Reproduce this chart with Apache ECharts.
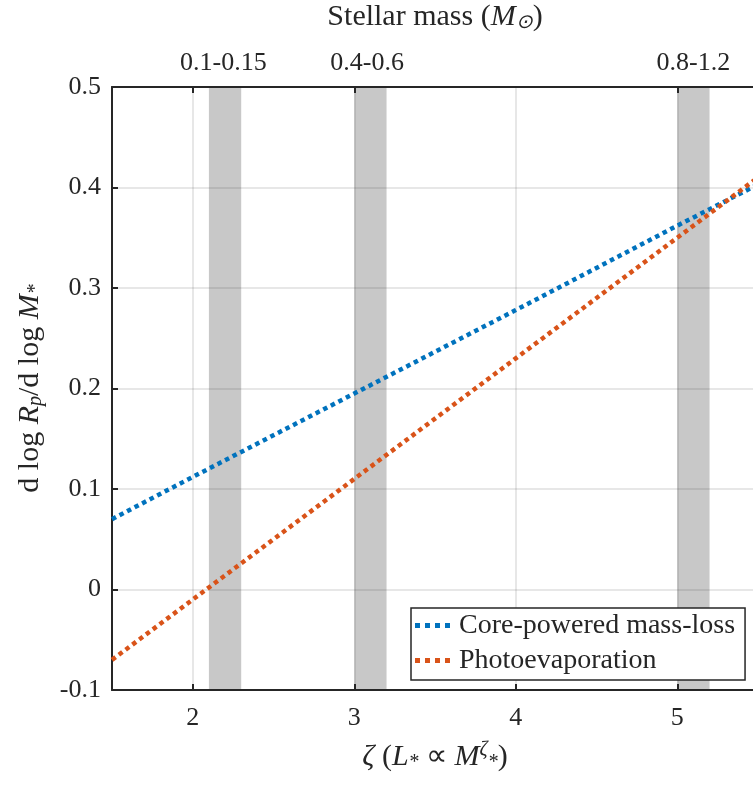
<!DOCTYPE html>
<html>
<head>
<meta charset="utf-8">
<script src="https://cdn.jsdelivr.net/npm/echarts@6/dist/echarts.min.js"></script>
<style>
  html, body { margin: 0; padding: 0; background: #fff; }
  #main { width: 753px; height: 785px; }
</style>
</head>
<body>
<div id="main"></div>
<script>
// values
var zeta = [1.5, 2, 3, 4, 5, 5.5];
var corePowered = [0.07, 0.112, 0.195, 0.278, 0.362, 0.403];
var photoevap = [-0.07, -0.01, 0.11, 0.23, 0.35, 0.41];
var bands = [[2.1, 2.3], [3.0, 3.2], [5.0, 5.2]];
var xTicks = [2, 3, 4, 5];
var massTickAt = [2, 3, 5];
var massLabelAt = [2.19, 3.08, 5.1];
var massLabels = ['0.1-0.15', '0.4-0.6', '0.8-1.2'];

var font = 'Liberation Serif';
var ink = '#262626';
// dotted legend marker: four small squares
var dotIcon = 'path://M0,0h5v5h-5zM10,0h5v5h-5zM20,0h5v5h-5zM30,0h5v5h-5z';

function pairs(xs, ys) {
  return xs.map(function (x, i) { return [x, ys[i]]; });
}

var myChart = echarts.init(document.getElementById('main'));

var rich = {
  i: { fontStyle: 'italic', fontFamily: font, fontSize: 30, color: ink },
  sub: { fontStyle: 'italic', fontFamily: font, fontSize: 20, color: ink, padding: [12, 0, 0, 0] },
  sup: { fontStyle: 'italic', fontFamily: font, fontSize: 20, color: ink, padding: [0, 0, 14, 0] }
};

var option = {
  animation: false,
  grid: { left: 112, top: 87, bottom: 95, right: -5, outerBoundsMode: 'none', containLabel: false },
  legend: {
    orient: 'vertical',
    left: 411,
    top: 608,
    padding: [3, 10, 5, 4],
    itemGap: 6,
    itemWidth: 35,
    itemHeight: 5,
    borderColor: ink,
    borderWidth: 1.5,
    borderRadius: 0,
    backgroundColor: '#fff',
    textStyle: { fontFamily: font, fontSize: 28, lineHeight: 29, color: ink, padding: [0, 0, 0, 4] },
    data: [
      { name: 'Core-powered mass-loss', icon: dotIcon, itemStyle: { color: '#0072BD' } },
      { name: 'Photoevaporation', icon: dotIcon, itemStyle: { color: '#D95319' } }
    ],
    z: 10
  },
  xAxis: [
    {
      type: 'value',
      min: 1.5,
      max: 5.5,
      z: 2,
      name: '{i|ζ} ({i|L}{sub|*} ∝ {i|M}{sup|ζ}{sub|*})',
      nameLocation: 'middle',
      nameGap: 50,
      nameTextStyle: { fontFamily: font, fontSize: 30, color: ink, rich: rich },
      axisLine: { onZero: false, lineStyle: { color: ink, width: 2 } },
      axisTick: { inside: true, length: 6, customValues: xTicks, lineStyle: { color: ink, width: 2 } },
      axisLabel: { customValues: xTicks, margin: 15, fontFamily: font, fontSize: 26, color: ink },
      splitLine: { show: true, lineStyle: { color: 'rgba(38,38,38,0.15)', width: 1.5 } }
    },
    {
      type: 'value',
      position: 'top',
      min: 1.5,
      max: 5.5,
      z: 2,
      name: 'Stellar mass ({i|M}{sub|⊙})',
      nameLocation: 'middle',
      nameGap: 54,
      nameTextStyle: { fontFamily: font, fontSize: 30, color: ink, rich: rich },
      axisLine: { onZero: false, lineStyle: { color: ink, width: 2 } },
      axisTick: { inside: true, length: 6, customValues: massTickAt, lineStyle: { color: ink, width: 2 } },
      axisLabel: {
        customValues: massLabelAt,
        margin: 11,
        fontFamily: font,
        fontSize: 26,
        color: ink,
        formatter: function (v) {
          for (var i = 0; i < massLabelAt.length; i++) {
            if (Math.abs(v - massLabelAt[i]) < 1e-6) return massLabels[i];
          }
          return '';
        }
      },
      splitLine: { show: false }
    }
  ],
  yAxis: {
    type: 'value',
    min: -0.1,
    max: 0.5,
    interval: 0.1,
    z: 2,
    name: 'd log {i|R}{sub|p}/d log {i|M}{sub|*}',
    nameLocation: 'middle',
    nameRotate: 90,
    nameGap: 66,
    nameTextStyle: { fontFamily: font, fontSize: 30, color: ink, rich: rich },
    axisLine: { show: true, onZero: false, lineStyle: { color: ink, width: 2 } },
    axisTick: { show: true, inside: true, length: 6, lineStyle: { color: ink, width: 2 } },
    axisLabel: {
      margin: 11,
      fontFamily: font,
      fontSize: 26,
      color: ink,
      formatter: function (v) { return String(+v.toFixed(1)); }
    },
    splitLine: { show: true, lineStyle: { color: 'rgba(38,38,38,0.15)', width: 1.5 } }
  },
  series: [
    {
      name: 'bands',
      type: 'line',
      data: [],
      z: 1,
      silent: true,
      markArea: {
        silent: true,
        itemStyle: { color: '#c8c8c8' },
        data: bands.map(function (b) {
          return [{ xAxis: b[0], yAxis: -0.1 }, { xAxis: b[1], yAxis: 0.5 }];
        })
      }
    },
    {
      name: 'Core-powered mass-loss',
      type: 'line',
      data: pairs(zeta, corePowered),
      symbol: 'none',
      z: 3,
      color: '#0072BD',
      lineStyle: { width: 4.5, type: [4.5, 4], color: '#0072BD', cap: 'butt' }
    },
    {
      name: 'Photoevaporation',
      type: 'line',
      data: pairs(zeta, photoevap),
      symbol: 'none',
      z: 3,
      color: '#D95319',
      lineStyle: { width: 4.5, type: [4.5, 4], color: '#D95319', cap: 'butt' }
    }
  ]
};

myChart.setOption(option);
</script>
</body>
</html>
